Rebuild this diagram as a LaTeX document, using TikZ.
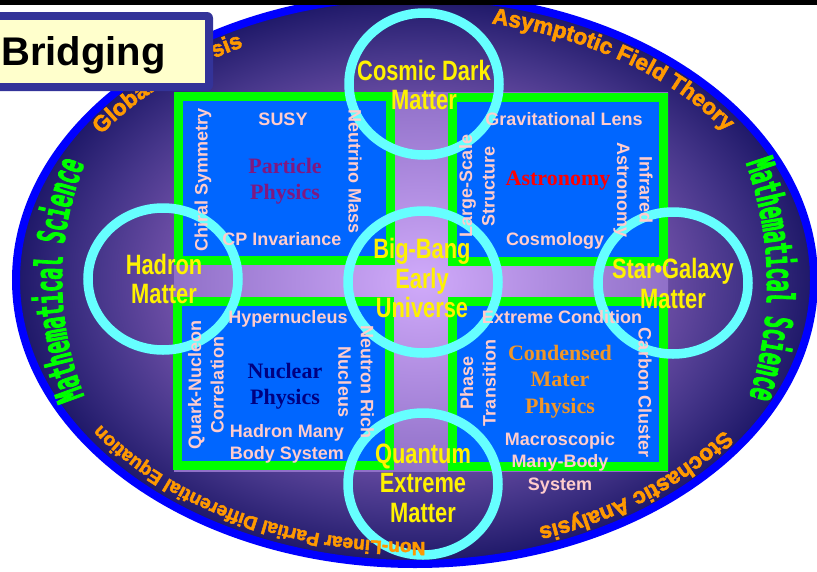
\documentclass[tikz,border=0pt]{standalone}
\usepackage{fontspec}
\setmainfont{Liberation Sans}
\newfontfamily\serifbold{Liberation Serif}
\newfontfamily\narrowfont[FakeStretch=0.78]{Liberation Sans}
\newfontfamily\arcfamily[FakeBold=2.5]{Liberation Sans}
\newfontfamily\mathsfont[FakeStretch=0.52,FakeBold=2]{DejaVu Sans Mono}
\usetikzlibrary{decorations.text}

\definecolor{rimblue}{RGB}{0,0,255}
\definecolor{quadblue}{RGB}{0,102,255}
\definecolor{quadgreen}{RGB}{0,255,0}
\definecolor{ringcyan}{RGB}{102,255,255}
\definecolor{lblpink}{RGB}{255,204,204}
\definecolor{arcorange}{RGB}{255,153,0}
\definecolor{mathgreen}{RGB}{0,255,0}
\definecolor{ppurple}{RGB}{128,24,128}
\definecolor{anavy}{RGB}{0,0,128}
\definecolor{corange}{RGB}{240,150,40}
\definecolor{frameindigo}{RGB}{51,51,153}
\definecolor{boxyellow}{RGB}{255,255,204}
% background shades
\definecolor{elA}{RGB}{200,160,242}
\definecolor{elB}{RGB}{160,124,214}
\definecolor{elC}{RGB}{112,80,168}
\definecolor{elD}{RGB}{70,54,138}
\definecolor{elE}{RGB}{30,24,104}
\definecolor{crA}{RGB}{208,170,250}
\definecolor{crB}{RGB}{144,112,200}
\pgfdeclareradialshading{ellshade}{\pgfpoint{0bp}{0bp}}{color(0bp)=(elA); color(9bp)=(elB); color(15bp)=(elC); color(20bp)=(elD); color(25bp)=(elE); color(50bp)=(elE)}
\pgfdeclareradialshading{crossshade}{\pgfpoint{0bp}{0bp}}{color(0bp)=(crA); color(25bp)=(crB); color(50bp)=(crB)}

\newcommand{\arcfont}{\arcfamily\bfseries\fontsize{22.5}{22.5}\selectfont}
\newcommand{\arcsmallfont}{\arcfamily\bfseries\fontsize{19}{19}\selectfont}
\newcommand{\greenfont}{\mathsfont\bfseries\fontsize{38}{38}\selectfont}

\begin{document}
\begin{tikzpicture}[x=1pt,y=-1pt,
    quad/.style={fill=quadblue,draw=quadgreen,line width=9pt},
    ring/.style={draw=ringcyan,line width=9.5pt},
    lbl/.style={text=lblpink,font=\bfseries\fontsize{18}{22.5}\selectfont,align=center,inner sep=0pt},
    ttl/.style={font=\serifbold\bfseries\fontsize{22}{26.5}\selectfont,align=center,inner sep=0pt},
    hub/.style={text=yellow,font=\narrowfont\bfseries\fontsize{28}{29.5}\selectfont,align=center,inner sep=0pt},
    arctext/.style={decorate,decoration={text along path,text align=center,text color=arcorange,text={#1}}},
    greentext/.style={decorate,decoration={text along path,text align=center,text color=mathgreen,text={#1}}}]
        \clip (0,0) rectangle (817,571);
        \fill[white] (0,0) rectangle (817,571);

        % Oval
        \shade[shading=ellshade] (415,280) ellipse [x radius=399, y radius=284];
        \draw[rimblue,line width=8pt] (415,280) ellipse [x radius=399, y radius=284];

        % Cross and the four fields
        \shade[shading=crossshade] (174,92) rectangle (668,471);
        \draw[quad] (178.5,96.5) rectangle (390.5,260.5);
        \draw[quad] (452.5,97.5) rectangle (663.5,261.5);
        \draw[quad] (177.5,301.5) rectangle (389.5,465.5);
        \draw[quad] (452.5,301.5) rectangle (663.5,466.5);

        % Rings
        \draw[ring] (424,84) ellipse [x radius=75, y radius=71];
        \draw[ring] (163,279) ellipse [x radius=75, y radius=71];
        \draw[ring] (423,282) ellipse [x radius=75, y radius=71];
        \draw[ring] (673,283) ellipse [x radius=75, y radius=71];
        \draw[ring] (423,484) ellipse [x radius=75, y radius=71];

        % Particle physics
        \node[ttl,text=ppurple] (particle) at (285,181) {Particle\\Physics};
        \node[lbl,anchor=base] (susy) at (283,125) {SUSY};
        \node[lbl,anchor=base] (cpinv) at (282,245) {CP Invariance};
        \node[lbl,rotate=90] (chiral) at (203,180) {Chiral Symmetry};
        \node[lbl,rotate=-90] (neutrino) at (355,172) {Neutrino Mass};

        % Astronomy
        \node[ttl,text=red,anchor=base] (astronomy) at (558,185) {Astronomy};
        \node[lbl,anchor=base] (gravlens) at (564,125) {Gravitational Lens};
        \node[lbl,anchor=base] (cosmology) at (555,245) {Cosmology};
        \node[lbl,rotate=90] (largescale) at (477,186) {Large-Scale\\Structure};
        \node[lbl,rotate=-90] (infrared) at (633,190) {Infrared\\Astronomy};

        % Nuclear physics
        \node[ttl,text=anavy] (nuclear) at (285,386) {Nuclear\\Physics};
        \node[lbl,anchor=base] (hypernuc) at (288,323) {Hypernucleus};
        \node[lbl] (hadronmany) at (287,444) {Hadron Many\\Body System};
        \node[lbl,rotate=90] (quarknuc) at (206,385) {Quark-Nucleon\\Correlation};
        \node[lbl,rotate=-90] (neutronrich) at (356,382) {Neutron Rich\\Nucleus};

        % Condensed matter
        \node[ttl,text=corange] (condensed) at (560,381.5) {Condensed\\Mater\\Physics};
        \node[lbl,anchor=base] (extremecond) at (562,323) {Extreme Condition};
        \node[lbl] (macroscopic) at (560,463) {Macroscopic\\Many-Body\\System};
        \node[lbl,rotate=90] (phase) at (478,383) {Phase\\Transition};
        \node[lbl,rotate=-90] (carbon) at (645,393) {Carbon Cluster};

        % Ring labels
        \node[hub] (cosmic) at (424,85) {Cosmic Dark\\Matter};
        \node[hub] (hadron) at (164,279) {Hadron\\Matter};
        \node[hub] (bigbang) at (422,278) {Big-Bang\\Early\\Universe};
        \node[hub] (stargal) at (673,283.5) {Star•Galaxy\\Matter};
        \node[hub] (quantum) at (423,483) {Quantum\\Extreme\\Matter};

        % Curved labels along the rim
        \path[arctext={|\arcfont|Global Analysis}] ({415+377*cos(-155)},{280+262*sin(-155)}) arc[start angle=-155,end angle=-110,x radius=377,y radius=262];
        \path[arctext={|\arcfont|Asymptotic Field Theory}] ({415+377*cos(-88)},{280+262*sin(-88)}) arc[start angle=-88,end angle=-22,x radius=377,y radius=262];
        \path[arctext={|\arcfont|Stochastic Analysis}] ({415+377*cos(26)},{280+262*sin(26)}) arc[start angle=26,end angle=78,x radius=377,y radius=262];
        \path[arctext={|\arcsmallfont|Non-Linear Partial Differential Equation}] ({415+377*cos(78)},{280+262*sin(78)}) arc[start angle=78,end angle=160,x radius=377,y radius=262];
        \path[greentext={|\greenfont|Mathematical Science}] (90,410) .. controls (52.7,323) and (52.7,237) .. (90,150);
        \path[greentext={|\greenfont|Mathematical Science}] (741,150) .. controls (775,237) and (775,323) .. (745,410);

        % Top bar and title box
        \fill[black] (0,0) rectangle (817,5);
        \fill[frameindigo,rounded corners=6pt] (-10,12) rectangle (213,91);
        \fill[boxyellow] (-10,20) rectangle (205,83);
        \node[anchor=base west,inner sep=0pt,font=\bfseries\fontsize{40}{40}\selectfont] (bridging) at (1,65) {Bridging};
\end{tikzpicture}
\end{document}
